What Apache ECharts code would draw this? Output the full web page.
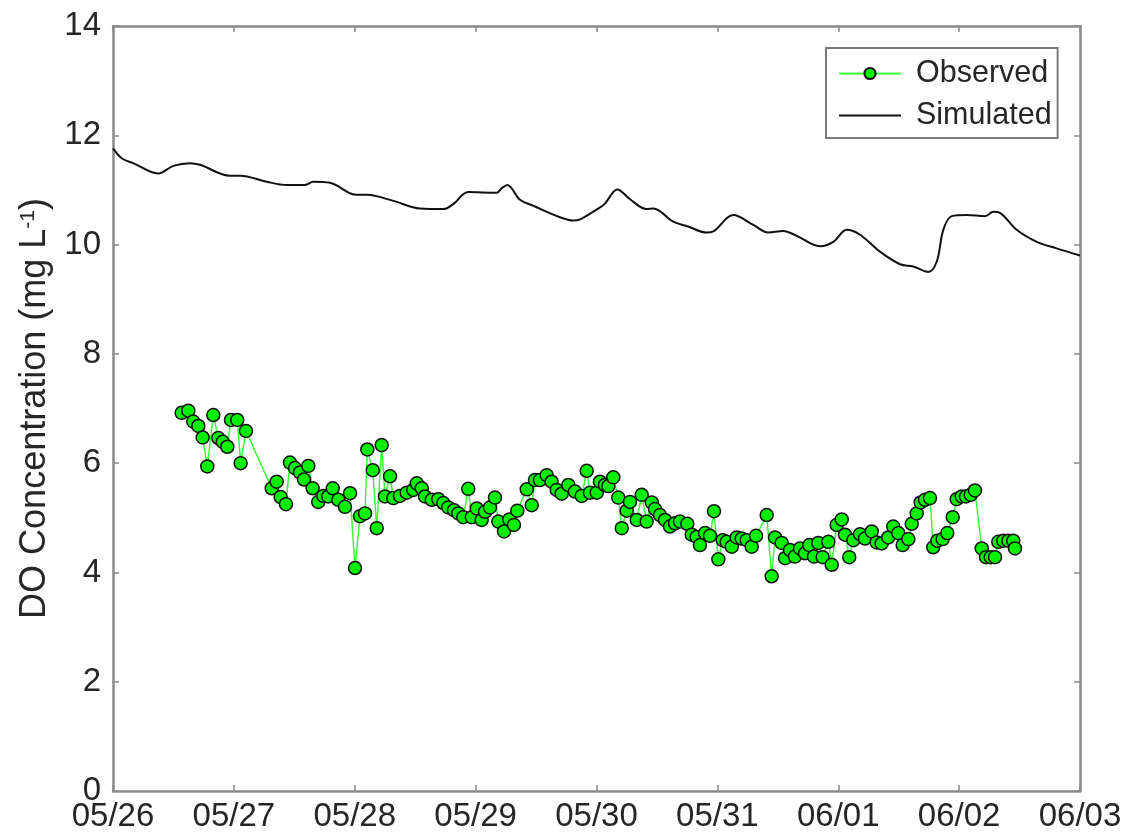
<!DOCTYPE html>
<html>
<head>
<meta charset="utf-8">
<title>DO Concentration</title>
<script src="https://cdn.jsdelivr.net/npm/echarts@6/dist/echarts.min.js"></script>
<style>
  html, body { margin: 0; padding: 0; background: #ffffff; }
  #chart { width: 1131px; height: 835px; }
</style>
</head>
<body>
<div id="chart"></div>
<script>
// Day tick labels (x = days since 05/26 00:00)
const dayLabels = ['05/26', '05/27', '05/28', '05/29', '05/30', '05/31', '06/01', '06/02', '06/03'];

// Simulated DO (mg/L): time in days, value
const simDays = [0.0, 0.072, 0.167, 0.375, 0.499, 0.637, 0.720, 0.968, 1.051, 1.272, 1.437, 1.588, 1.657, 1.795,
  2.016, 2.099, 2.319, 2.540, 2.733, 2.815, 2.939, 3.174, 3.216, 3.262, 3.367, 3.477, 3.698, 3.808, 3.864,
  4.029, 4.070, 4.172, 4.277, 4.415, 4.470, 4.635, 4.746, 4.912, 4.966, 5.132, 5.297, 5.421, 5.545, 5.656,
  5.849, 5.959, 6.070, 6.180, 6.345, 6.511, 6.621, 6.745, 6.815, 6.869, 6.939, 7.063, 7.214, 7.283, 7.338,
  7.476, 7.642, 7.807, 8.0];
const simValues = [11.76, 11.58, 11.49, 11.30, 11.44, 11.49, 11.46, 11.26, 11.26, 11.15, 11.09, 11.09, 11.15, 11.13,
  10.91, 10.91, 10.80, 10.66, 10.65, 10.74, 10.96, 10.95, 11.03, 11.09, 10.82, 10.71, 10.50, 10.44, 10.46,
  10.68, 10.75, 11.01, 10.83, 10.65, 10.66, 10.42, 10.34, 10.22, 10.24, 10.54, 10.36, 10.22, 10.25, 10.16,
  9.97, 10.05, 10.27, 10.18, 9.87, 9.64, 9.60, 9.50, 9.69, 10.27, 10.52, 10.54, 10.52, 10.60, 10.58,
  10.27, 10.05, 9.93, 9.80];

// Observed DO (mg/L): time in days, value
const obsDays = [0.568, 0.623, 0.664, 0.706, 0.742, 0.780, 0.830, 0.871, 0.908, 0.946, 0.976, 1.028, 1.056, 1.100,
  1.313, 1.354, 1.387, 1.431, 1.464, 1.506, 1.547, 1.580, 1.616, 1.652, 1.698, 1.740, 1.781, 1.818, 1.864,
  1.919, 1.961, 2.002, 2.043, 2.085, 2.104, 2.149, 2.182, 2.223, 2.250, 2.292, 2.319, 2.374, 2.430, 2.484,
  2.513, 2.554, 2.581, 2.637, 2.691, 2.733, 2.774, 2.821, 2.857, 2.898, 2.939, 2.968, 3.009, 3.050, 3.078,
  3.119, 3.160, 3.188, 3.235, 3.279, 3.317, 3.345, 3.423, 3.464, 3.491, 3.532, 3.588, 3.629, 3.671, 3.712,
  3.767, 3.822, 3.878, 3.919, 3.946, 4.002, 4.029, 4.070, 4.098, 4.139, 4.180, 4.209, 4.250, 4.277, 4.333,
  4.374, 4.415, 4.457, 4.484, 4.525, 4.567, 4.608, 4.649, 4.691, 4.751, 4.788, 4.829, 4.856, 4.898, 4.939,
  4.972, 5.008, 5.044, 5.077, 5.119, 5.160, 5.201, 5.243, 5.284, 5.320, 5.408, 5.449, 5.477, 5.532, 5.560,
  5.601, 5.642, 5.684, 5.725, 5.760, 5.799, 5.835, 5.871, 5.918, 5.946, 5.987, 6.029, 6.056, 6.091, 6.125,
  6.180, 6.221, 6.277, 6.318, 6.359, 6.414, 6.455, 6.497, 6.533, 6.580, 6.608, 6.649, 6.682, 6.718, 6.759,
  6.786, 6.820, 6.864, 6.902, 6.947, 6.980, 7.021, 7.057, 7.096, 7.131, 7.187, 7.222, 7.261, 7.297, 7.324,
  7.366, 7.407, 7.448, 7.462];
const obsValues = [6.92, 6.96, 6.76, 6.68, 6.47, 5.94, 6.88, 6.46, 6.39, 6.30, 6.79, 6.79, 6.00, 6.59,
  5.54, 5.66, 5.38, 5.25, 6.01, 5.91, 5.83, 5.70, 5.95, 5.54, 5.29, 5.40, 5.39, 5.54, 5.33,
  5.20, 5.45, 4.08, 5.03, 5.08, 6.25, 5.87, 4.81, 6.33, 5.39, 5.76, 5.36, 5.40, 5.46, 5.51,
  5.63, 5.54, 5.39, 5.33, 5.34, 5.27, 5.19, 5.14, 5.08, 5.01, 5.53, 5.01, 5.17, 4.96, 5.11,
  5.19, 5.37, 4.93, 4.75, 4.97, 4.87, 5.13, 5.52, 5.23, 5.69, 5.69, 5.78, 5.66, 5.51, 5.44,
  5.60, 5.48, 5.40, 5.86, 5.46, 5.46, 5.66, 5.60, 5.58, 5.74, 5.37, 4.81, 5.13, 5.29, 4.96,
  5.42, 4.93, 5.28, 5.16, 5.05, 4.96, 4.84, 4.90, 4.93, 4.89, 4.69, 4.65, 4.50, 4.72, 4.67,
  5.12, 4.24, 4.59, 4.56, 4.47, 4.64, 4.62, 4.59, 4.47, 4.67, 5.05, 3.93, 4.64, 4.54, 4.26,
  4.41, 4.29, 4.44, 4.35, 4.50, 4.29, 4.54, 4.28, 4.56, 4.14, 4.87, 4.97, 4.69, 4.28, 4.59,
  4.70, 4.62, 4.75, 4.55, 4.53, 4.64, 4.84, 4.72, 4.50, 4.61, 4.89, 5.08, 5.28, 5.33, 5.36,
  4.46, 4.58, 4.61, 4.72, 5.01, 5.34, 5.39, 5.39, 5.42, 5.50, 4.44, 4.28, 4.28, 4.28, 4.56,
  4.58, 4.58, 4.58, 4.44];

const FONT = 'Liberation Sans, Helvetica, Arial, sans-serif';
const AXIS_GREY = '#8a8a8a';
const TEXT = '#262626';

const zip = (xs, ys) => xs.map((x, i) => [x, ys[i]]);

const chart = echarts.init(document.getElementById('chart'), null, { renderer: 'canvas' });

// Shared styling for the four sides of the box frame (ticks point inward)
const frameAxis = {
  axisLine: { show: true, onZero: false, lineStyle: { color: AXIS_GREY, width: 2.5 } },
  axisTick: { show: true, inside: true, length: 6, lineStyle: { color: AXIS_GREY, width: 1.5 } },
  splitLine: { show: false }
};

chart.setOption({
  backgroundColor: '#ffffff',
  animation: false,
  textStyle: { fontFamily: FONT },
  grid: { left: 113, right: 51, top: 26, bottom: 44, containLabel: false },
  legend: {
    orient: 'vertical',
    left: 826,
    top: 48,
    padding: [10, 6, 7, 12],
    itemGap: 11,
    itemWidth: 62,
    itemHeight: 14,
    backgroundColor: '#ffffff',
    borderColor: '#7a7a7a',
    borderWidth: 2,
    textStyle: { fontFamily: FONT, fontSize: 30.5, color: TEXT, padding: [0, 0, 0, 10] },
    data: [
      { name: 'Observed' },
      { name: 'Simulated', itemStyle: { color: 'rgba(0,0,0,0)', borderWidth: 0 } }
    ]
  },
  xAxis: [
    Object.assign({}, frameAxis, {
      type: 'value', position: 'bottom', min: 0, max: 8, interval: 1,
      axisLabel: {
        show: true, margin: 9, fontSize: 33, color: TEXT, fontFamily: FONT,
        formatter: v => dayLabels[Math.round(v)]
      }
    }),
    Object.assign({}, frameAxis, {
      type: 'value', position: 'top', min: 0, max: 8, interval: 1,
      axisLabel: { show: false }
    })
  ],
  yAxis: [
    Object.assign({}, frameAxis, {
      type: 'value', position: 'left', min: 0, max: 14, interval: 2,
      axisLabel: { show: true, margin: 12, fontSize: 33, color: TEXT, fontFamily: FONT },
      name: 'DO Concentration (mg L{sup|-1})',
      nameLocation: 'middle',
      nameGap: 56,
      nameRotate: 90,
      nameTextStyle: {
        fontSize: 36, color: TEXT, fontFamily: FONT,
        rich: {
          sup: { fontSize: 21, color: TEXT, fontFamily: FONT, verticalAlign: 'top', padding: [0, 0, 14, 0] }
        }
      }
    }),
    Object.assign({}, frameAxis, {
      type: 'value', position: 'right', min: 0, max: 14, interval: 2,
      axisLabel: { show: false }
    })
  ],
  series: [
    {
      name: 'Simulated',
      type: 'line',
      data: zip(simDays, simValues),
      showSymbol: false,
      symbol: 'none',
      smooth: 0.35,
      lineStyle: { color: '#111111', width: 2 },
      itemStyle: { color: '#111111' },
      z: 3
    },
    {
      name: 'Observed',
      type: 'line',
      data: zip(obsDays, obsValues),
      symbol: 'circle',
      symbolSize: 13,
      showAllSymbol: true,
      lineStyle: { color: '#3cff3c', width: 1.5 },
      itemStyle: { color: '#00f000', borderColor: '#111111', borderWidth: 1.5 },
      z: 4
    }
  ]
});
</script>
</body>
</html>
